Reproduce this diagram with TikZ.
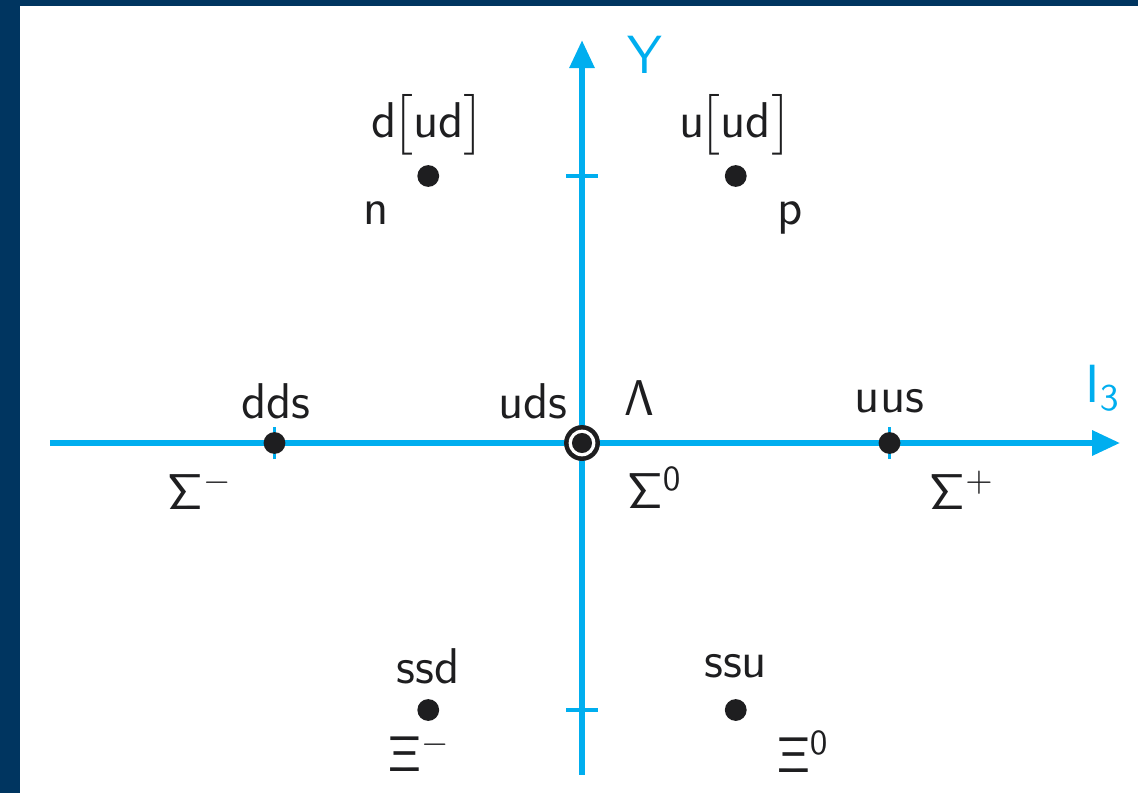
\RequirePackage{fix-cm}
\documentclass[tikz,border=0pt]{standalone}
\usepackage{amsmath}
\usetikzlibrary{arrows.meta,positioning}
\definecolor{axiscyan}{RGB}{0,174,239}
\definecolor{framenavy}{RGB}{0,53,96}
\definecolor{inkdark}{RGB}{30,30,32}
\tikzset{
  axis/.style={line width=1.7pt, axiscyan, -{Triangle[length=0.28cm,width=0.24cm]}},
  axtick/.style={line width=1pt, axiscyan},
  quark/.style={circle, fill=inkdark, inner sep=0pt, minimum size=6.2pt},
  lbl/.style={font=\fontsize{14.3}{17}\selectfont\sffamily, text=inkdark, inner sep=0pt},
  axlbl/.style={font=\fontsize{15.3}{18}\selectfont\sffamily, text=axiscyan, inner sep=0pt}
}
\begin{document}
\begin{tikzpicture}[>=Stealth, x=3.075cm, y=2.67cm]
\useasboundingbox (-1.8927,-1.3109) rectangle (1.8081,1.6592);
% frame
\fill[framenavy] (-1.8927,-1.3109) rectangle (-1.8276,1.6592);
\fill[framenavy] (-1.8927,1.6367) rectangle (1.8081,1.6592);
% axes
\coordinate (xstart) at (-1.730,0); \coordinate (xend) at (1.750,0);
\coordinate (ystart) at (0,-1.243); \coordinate (yend) at (0,1.509);
\draw[axis] (xstart) -- (xend); \draw[axis] (ystart) -- (yend);
\draw[axtick] (-1,-0.06) -- (-1,0.06); \draw[axtick] (1,-0.06) -- (1,0.06);
\draw[axtick] (-0.052,1) -- (0.052,1); \draw[axtick] (-0.052,-1) -- (0.052,-1);
\node[axlbl] (ylbl) at (0.205,1.453) {Y};
\node[axlbl] (xlbl) at (1.694,0.206) {I$_{\mathsf{3}}$};
% baryons
\node[quark] (n) at (-0.5,1) {}; \node[quark] (p) at (0.5,1) {};
\node[quark] (sigmam) at (-1,0) {}; \node[quark] (sigmap) at (1,0) {};
\node[quark] (xim) at (-0.5,-1) {}; \node[quark] (xiz) at (0.5,-1) {};
\coordinate (lambda) at (0,0);
\fill[inkdark] (lambda) circle[radius=5.1pt];
\fill[white] (lambda) circle[radius=3.8pt];
\fill[inkdark] (lambda) circle[radius=2.85pt];
% labels
\node[lbl] (nq) at (-0.5,1.191) {d\kern-1.4pt$\big[$ud$\big]$};
\node[lbl] (pq) at (0.5,1.191) {u\kern-1.4pt$\big[$ud$\big]$};
\node[lbl] (nname) at (-0.670,0.861) {n};
\node[lbl] (pname) at (0.676,0.843) {p};
\node[lbl] (sigmamq) at (-0.995,0.157) {dds};
\node[lbl] (lambdaq) at (-0.159,0.157) {uds};
\node[lbl] (lambdaname) at (0.185,0.169) {$\mathsf{\Lambda}$};
\node[lbl] (sigmapq) at (1.0,0.157) {uus};
\node[lbl] (sigmamname) at (-1.242,-0.176) {$\mathsf{\Sigma}^{-}$};
\node[lbl] (sigmazname) at (0.237,-0.169) {$\mathsf{\Sigma}^{\mathsf{0}}$};
\node[lbl] (sigmapname) at (1.236,-0.176) {$\mathsf{\Sigma}^{+}$};
\node[lbl] (ximq) at (-0.5,-0.835) {ssd};
\node[lbl] (xizq) at (0.5,-0.835) {ssu};
\node[lbl] (ximname) at (-0.527,-1.157) {$\mathsf{\Xi}^{-}$};
\node[lbl] (xizname) at (0.719,-1.157) {$\mathsf{\Xi}^{\mathsf{0}}$};
\end{tikzpicture}
\end{document}
